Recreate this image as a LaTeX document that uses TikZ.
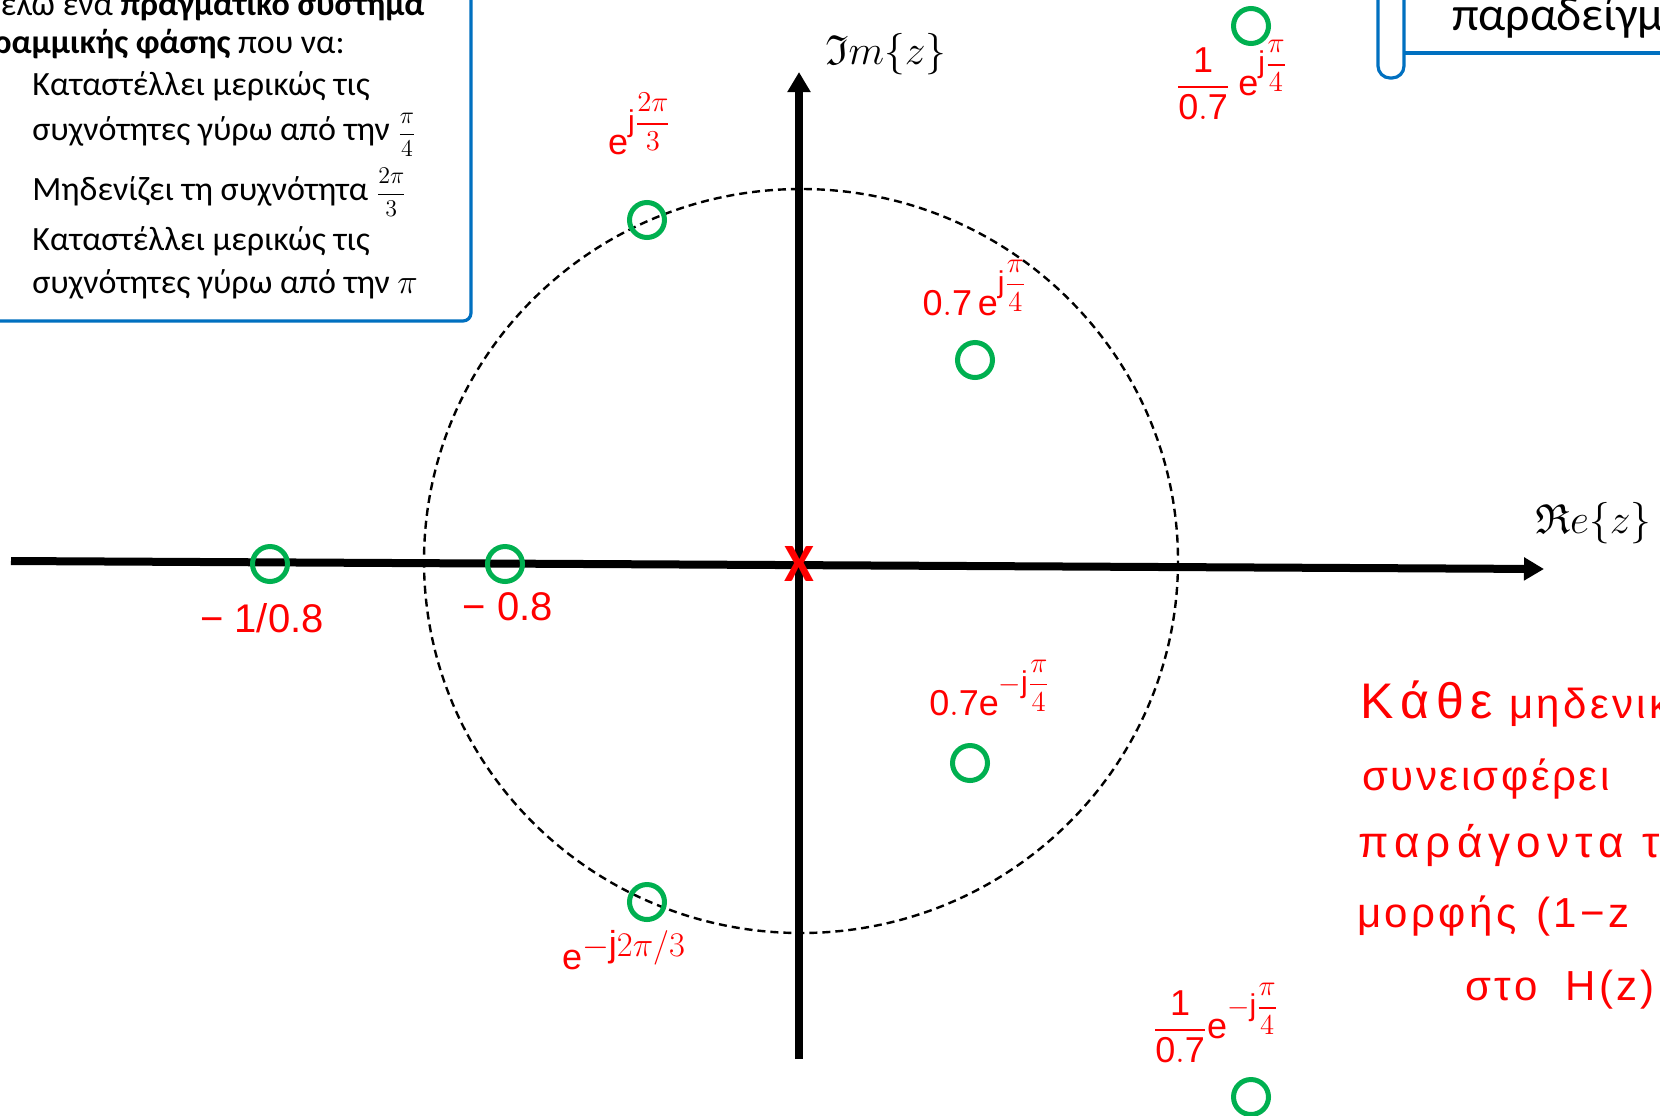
\documentclass[tikz,border=0pt]{standalone}
\usepackage{fontspec}
\usepackage{amssymb}
\setmainfont{Carlito}
\setsansfont{Liberation Sans}
\newfontfamily\hw{Liberation Sans}
\usetikzlibrary{arrows.meta}
\definecolor{boxblue}{RGB}{0,112,192}
\definecolor{zgreen}{RGB}{0,176,80}
\definecolor{hred}{RGB}{255,0,0}
\newcommand{\bigfr}[2]{{\fontsize{12.5}{15}\selectfont$\displaystyle\frac{#1}{#2}$}}
\newcommand{\expo}[1]{\hbox{\fontsize{15}{17}\selectfont$\displaystyle #1$}}
\tikzset{
  zero/.style={circle, draw=zgreen, line width=2.5pt, minimum size=17.5pt, inner sep=0pt},
  axis/.style={line width=4pt, -{Triangle[length=10pt,width=11pt]}},
  unitc/.style={line width=1.2pt, dash pattern=on 4pt off 2.5pt},
  bluebox/.style={draw=boxblue, line width=1.6pt},
  boxtxt/.style={inner sep=0pt, font=\fontsize{17}{20}\selectfont},
  lab/.style={text=hred, inner sep=0pt, font=\fontsize{18}{20}\selectfont},
  hand/.style={text=hred, inner sep=0pt, anchor=base west},
  axlab/.style={inner sep=0pt, font=\fontsize{21}{24}\selectfont}
}
\begin{document}
\begin{tikzpicture}[x=0.5pt,y=-0.5pt]
\useasboundingbox (0,0) rectangle (1660,1115);
\fill[white] (0,0) rectangle (1660,1115);

% left text box
\draw[bluebox, rounded corners=4pt] (-20,-20) rectangle (471,321);
\node[boxtxt, anchor=base east] (t1) at (425,15) {Θέλω ένα \textbf{πραγματικό σύστημα}};
\node[boxtxt, anchor=base east] (t2) at (345,53) {\textbf{Γραμμικής φάσης} που να:};
\node[boxtxt, anchor=base west] (t3) at (32,95) {Καταστέλλει μερικώς τις};
\node[boxtxt, anchor=base west] (t4) at (32,140) {συχνότητες γύρω από την \bigfr{\pi}{4}};
\node[boxtxt, anchor=base west] (t5) at (32,200) {Μηδενίζει τη συχνότητα \bigfr{2\pi}{3}};
\node[boxtxt, anchor=base west] (t6) at (32,250) {Καταστέλλει μερικώς τις};
\node[boxtxt, anchor=base west] (t7) at (32,293) {συχνότητες γύρω από την $\pi$};

% top-right box
\draw[bluebox, rounded corners=6pt] (1378,-20) -- (1378,78) -- (1404,78) -- (1404,-20);
\draw[bluebox] (1404,53) -- (1700,53);
\node[inner sep=0pt, anchor=base west, font=\fontsize{24}{28}\selectfont] (ex) at (1452,30) {παραδείγματα};

% unit circle
\draw[unitc] (801,561) ellipse [x radius=377, y radius=372];

% axes
\coordinate (hl) at (11,561);
\coordinate (hr) at (1544,569);
\coordinate (vb) at (799,1059);
\coordinate (vt) at (799,72);
\draw[axis] (hl) -- (hr);
\draw[axis] (vb) -- (vt);
\node[axlab, anchor=base west] (im) at (825,64) {$\mathfrak{I}m\{z\}$};
\node[axlab, anchor=base west] (re) at (1535,533) {$\mathfrak{R}e\{z\}$};

% pole
\node[text=hred, inner sep=0pt, font=\bfseries\fontsize{27}{30}\selectfont] (pole) at (799,564) {X};

% zeros
\node[zero] (z1) at (1251,26) {};
\node[zero] (z2) at (647,220) {};
\node[zero] (z3) at (975,360) {};
\node[zero] (z4) at (270,564) {};
\node[zero] (z5) at (505,564) {};
\node[zero] (z6) at (970,763) {};
\node[zero] (z7) at (647,902) {};
\node[zero] (z8) at (1251,1097) {};

% labels
\node[lab] (l1) at (1232,80) {$\displaystyle\frac{\mathsf{1}}{\mathsf{0.7}}\ \mathsf{e}^{\expo{\mathsf{j}\frac{\pi}{4}}}$};
\node[lab] (l2) at (640,124) {$\mathsf{e}^{\expo{\mathsf{j}\frac{2\pi}{3}}}$};
\node[lab] (l3) at (975,288) {$\mathsf{0.7\,e}^{\expo{\mathsf{j}\frac{\pi}{4}}}$};
\node[lab] (l4) at (990,688) {$\mathsf{0.7e}^{\expo{-\mathsf{j}\frac{\pi}{4}}}$};
\node[lab] (l5) at (624,950) {$\mathsf{e}^{\textstyle-\mathsf{j}2\pi/3}$};
\node[lab] (l6) at (1216,1023) {$\displaystyle\frac{\mathsf{1}}{\mathsf{0.7}}\mathsf{e}^{\expo{-\mathsf{j}\frac{\pi}{4}}}$};
\node[lab, font=\hw\fontsize{20}{22}\selectfont] (l7) at (262,618) {− 1/0.8};
\node[lab, font=\hw\fontsize{20}{22}\selectfont] (l8) at (508,607) {− 0.8};

% handwritten note
\node[hand, font=\hw\fontsize{21}{24}\selectfont\addfontfeatures{LetterSpace=8}] (n1) at (1360,718) {{\fontsize{25}{30}\selectfont\addfontfeatures{LetterSpace=14}Κάθε}\hspace{8pt}μηδενικό};
\node[hand, font=\hw\fontsize{21}{24}\selectfont\addfontfeatures{LetterSpace=6}] (n2) at (1362,790) {συνεισφέρει};
\node[hand, font=\hw\fontsize{22}{24}\selectfont\addfontfeatures{LetterSpace=14}] (n3) at (1358,857) {παράγοντα της};
\node[hand, font=\hw\fontsize{21}{24}\selectfont\addfontfeatures{LetterSpace=8}] (n4) at (1357,927) {μορφής\hspace{10pt}(1−z};
\node[hand, font=\hw\fontsize{21}{24}\selectfont\addfontfeatures{LetterSpace=8}] (n5) at (1465,1000) {στο\hspace{14pt}H(z)};
\end{tikzpicture}
\end{document}
